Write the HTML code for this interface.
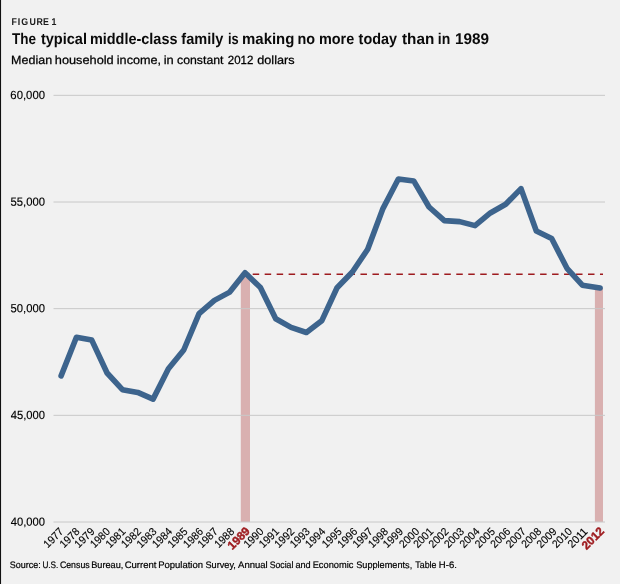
<!DOCTYPE html>
<html lang="en"><head><meta charset="utf-8"><title>Figure 1: The typical middle-class family is making no more today than in 1989</title>
<style>
html,body{margin:0;padding:0;background:#f1f1f1;}
body{width:620px;height:584px;overflow:hidden;font-family:"Liberation Sans",sans-serif;}
svg{display:block;will-change:transform;text-rendering:geometricPrecision;font-family:"Liberation Sans",sans-serif;}
</style></head>
<body>
<svg width="620" height="584" viewBox="0 0 620 584">
<rect x="0" y="0" width="620" height="584" fill="#f1f1f1"/>
<rect x="0" y="0" width="1.05" height="584" fill="#111"/>
<text transform="rotate(0.03) scale(0.9,1)" x="12.75 19.73 23.71 32.76 40.53 47.72 53.72 57.37" y="24.8" font-size="9.8" font-weight="bold" fill="#1a1a1a">FIGURE 1</text>
<text transform="translate(11.90,43.9) rotate(0.03)" font-size="15.5" font-weight="bold" textLength="24.04" lengthAdjust="spacingAndGlyphs" fill="#0a0a0a">The</text>
<text transform="translate(40.90,43.9) rotate(0.03)" font-size="15.5" font-weight="bold" textLength="46.06" lengthAdjust="spacingAndGlyphs" fill="#0a0a0a">typical</text>
<text transform="translate(89.90,43.9) rotate(0.03)" font-size="15.5" font-weight="bold" textLength="87.59" lengthAdjust="spacingAndGlyphs" fill="#0a0a0a">middle-class</text>
<text transform="translate(181.37,43.9) rotate(0.03)" font-size="15.5" font-weight="bold" textLength="42.03" lengthAdjust="spacingAndGlyphs" fill="#0a0a0a">family</text>
<text transform="translate(227.90,43.9) rotate(0.03)" font-size="15.5" font-weight="bold" textLength="10.72" lengthAdjust="spacingAndGlyphs" fill="#0a0a0a">is</text>
<text transform="translate(242.07,43.9) rotate(0.03)" font-size="15.5" font-weight="bold" textLength="52.29" lengthAdjust="spacingAndGlyphs" fill="#0a0a0a">making</text>
<text transform="translate(297.50,43.9) rotate(0.03)" font-size="15.5" font-weight="bold" textLength="17.57" lengthAdjust="spacingAndGlyphs" fill="#0a0a0a">no</text>
<text transform="translate(318.90,43.9) rotate(0.03)" font-size="15.5" font-weight="bold" textLength="35.26" lengthAdjust="spacingAndGlyphs" fill="#0a0a0a">more</text>
<text transform="translate(358.60,43.9) rotate(0.03)" font-size="15.5" font-weight="bold" textLength="38.41" lengthAdjust="spacingAndGlyphs" fill="#0a0a0a">today</text>
<text transform="translate(402.00,43.9) rotate(0.03)" font-size="15.5" font-weight="bold" textLength="32.24" lengthAdjust="spacingAndGlyphs" fill="#0a0a0a">than</text>
<text transform="translate(437.82,43.9) rotate(0.03)" font-size="15.5" font-weight="bold" textLength="12.45" lengthAdjust="spacingAndGlyphs" fill="#0a0a0a">in</text>
<text transform="translate(454.94,43.9) rotate(0.03)" font-size="15.5" font-weight="bold" textLength="34.04" lengthAdjust="spacingAndGlyphs" fill="#0a0a0a">1989</text>

<text transform="translate(11.12,63.9) rotate(0.03)" font-size="11.9" textLength="40.98" lengthAdjust="spacingAndGlyphs" fill="#000" stroke="#000" stroke-width="0.25">Median</text>
<text transform="translate(54.80,63.9) rotate(0.03)" font-size="11.9" textLength="58.91" lengthAdjust="spacingAndGlyphs" fill="#000" stroke="#000" stroke-width="0.25">household</text>
<text transform="translate(116.81,63.9) rotate(0.03)" font-size="11.9" textLength="44.23" lengthAdjust="spacingAndGlyphs" fill="#000" stroke="#000" stroke-width="0.25">income,</text>
<text transform="translate(163.69,63.9) rotate(0.03)" font-size="11.9" textLength="10.03" lengthAdjust="spacingAndGlyphs" fill="#000" stroke="#000" stroke-width="0.25">in</text>
<text transform="translate(177.02,63.9) rotate(0.03)" font-size="11.9" textLength="46.44" lengthAdjust="spacingAndGlyphs" fill="#000" stroke="#000" stroke-width="0.25">constant</text>
<text transform="translate(227.76,63.9) rotate(0.03)" font-size="11.9" textLength="25.50" lengthAdjust="spacingAndGlyphs" fill="#000" stroke="#000" stroke-width="0.25">2012</text>
<text transform="translate(257.20,63.9) rotate(0.03)" font-size="11.9" textLength="37.39" lengthAdjust="spacingAndGlyphs" fill="#000" stroke="#000" stroke-width="0.25">dollars</text>

<rect x="240.8" y="272.80" width="9.2" height="249.20" fill="#d9b0b0"/>
<rect x="594.9" y="287.97" width="8.1" height="234.03" fill="#d9b0b0"/>

<line x1="53.5" x2="605" y1="95.33" y2="95.33" stroke="#c8c8c8" stroke-width="1"/>
<line x1="53.5" x2="605" y1="202.00" y2="202.00" stroke="#c8c8c8" stroke-width="1"/>
<line x1="53.5" x2="605" y1="308.66" y2="308.66" stroke="#c8c8c8" stroke-width="1"/>
<line x1="53.5" x2="605" y1="415.33" y2="415.33" stroke="#c8c8c8" stroke-width="1"/>
<line x1="53.5" x2="605" y1="522.00" y2="522.00" stroke="#c8c8c8" stroke-width="1"/>

<line x1="252.7" x2="603" y1="274.2" y2="274.2" stroke="#9e1b1f" stroke-width="1.6" stroke-dasharray="6.5 5.475"/>
<polyline points="61.10,375.87 76.43,337.27 91.76,340.09 107.09,372.99 122.42,389.63 137.75,392.44 153.08,399.12 168.41,368.80 183.74,349.99 199.07,313.70 214.40,300.37 229.73,292.11 245.06,272.80 260.39,287.46 275.72,318.71 291.05,327.40 306.38,332.47 321.71,320.85 337.04,287.80 352.37,271.97 367.70,249.27 383.03,208.35 398.36,178.96 413.69,180.94 429.02,206.99 444.35,220.62 459.68,221.65 475.01,225.66 490.34,212.96 505.67,204.30 521.00,188.62 536.33,230.93 551.66,238.58 566.99,268.30 582.32,285.20 600.10,287.97" fill="none" stroke="#3d648d" stroke-width="5.6" stroke-linecap="round" stroke-linejoin="round"/>
<text transform="translate(10.37,98.98) rotate(0.03)" font-size="11.8" textLength="34.61" lengthAdjust="spacingAndGlyphs" fill="#000" stroke="#000" stroke-width="0.15">60,000</text>
<text transform="translate(10.55,205.65) rotate(0.03)" font-size="11.8" textLength="34.43" lengthAdjust="spacingAndGlyphs" fill="#000" stroke="#000" stroke-width="0.15">55,000</text>
<text transform="translate(10.55,312.31) rotate(0.03)" font-size="11.8" textLength="34.43" lengthAdjust="spacingAndGlyphs" fill="#000" stroke="#000" stroke-width="0.15">50,000</text>
<text transform="translate(10.73,418.98) rotate(0.03)" font-size="11.8" textLength="34.25" lengthAdjust="spacingAndGlyphs" fill="#000" stroke="#000" stroke-width="0.15">45,000</text>
<text transform="translate(10.73,525.65) rotate(0.03)" font-size="11.8" textLength="34.25" lengthAdjust="spacingAndGlyphs" fill="#000" stroke="#000" stroke-width="0.15">40,000</text>

<text transform="translate(64.20,532.2) rotate(-45)" text-anchor="end" font-size="11" textLength="23.2" lengthAdjust="spacingAndGlyphs" fill="#000" stroke="#000" stroke-width="0.12">1977</text>
<text transform="translate(80.33,532.2) rotate(-45)" text-anchor="end" font-size="11" textLength="23.2" lengthAdjust="spacingAndGlyphs" fill="#000" stroke="#000" stroke-width="0.12">1978</text>
<text transform="translate(95.26,532.2) rotate(-45)" text-anchor="end" font-size="11" textLength="23.2" lengthAdjust="spacingAndGlyphs" fill="#000" stroke="#000" stroke-width="0.12">1979</text>
<text transform="translate(110.79,532.2) rotate(-45)" text-anchor="end" font-size="11" textLength="23.2" lengthAdjust="spacingAndGlyphs" fill="#000" stroke="#000" stroke-width="0.12">1980</text>
<text transform="translate(126.32,532.2) rotate(-45)" text-anchor="end" font-size="11" textLength="23.2" lengthAdjust="spacingAndGlyphs" fill="#000" stroke="#000" stroke-width="0.12">1981</text>
<text transform="translate(141.85,532.2) rotate(-45)" text-anchor="end" font-size="11" textLength="23.2" lengthAdjust="spacingAndGlyphs" fill="#000" stroke="#000" stroke-width="0.12">1982</text>
<text transform="translate(157.38,532.2) rotate(-45)" text-anchor="end" font-size="11" textLength="23.2" lengthAdjust="spacingAndGlyphs" fill="#000" stroke="#000" stroke-width="0.12">1983</text>
<text transform="translate(172.91,532.2) rotate(-45)" text-anchor="end" font-size="11" textLength="23.2" lengthAdjust="spacingAndGlyphs" fill="#000" stroke="#000" stroke-width="0.12">1984</text>
<text transform="translate(188.44,532.2) rotate(-45)" text-anchor="end" font-size="11" textLength="23.2" lengthAdjust="spacingAndGlyphs" fill="#000" stroke="#000" stroke-width="0.12">1985</text>
<text transform="translate(203.97,532.2) rotate(-45)" text-anchor="end" font-size="11" textLength="23.2" lengthAdjust="spacingAndGlyphs" fill="#000" stroke="#000" stroke-width="0.12">1986</text>
<text transform="translate(218.50,532.2) rotate(-45)" text-anchor="end" font-size="11" textLength="23.2" lengthAdjust="spacingAndGlyphs" fill="#000" stroke="#000" stroke-width="0.12">1987</text>
<text transform="translate(235.03,532.2) rotate(-45)" text-anchor="end" font-size="11" textLength="23.2" lengthAdjust="spacingAndGlyphs" fill="#000" stroke="#000" stroke-width="0.12">1988</text>
<text transform="translate(250.56,532.0) rotate(-45)" text-anchor="end" font-size="11.8" textLength="25.8" lengthAdjust="spacingAndGlyphs" font-weight="bold" fill="#9e1b1f" stroke="#9e1b1f" stroke-width="0.45">1989</text>
<text transform="translate(264.30,532.2) rotate(-45)" text-anchor="end" font-size="11" textLength="23.2" lengthAdjust="spacingAndGlyphs" fill="#000" stroke="#000" stroke-width="0.12">1990</text>
<text transform="translate(279.73,532.2) rotate(-45)" text-anchor="end" font-size="11" textLength="23.2" lengthAdjust="spacingAndGlyphs" fill="#000" stroke="#000" stroke-width="0.12">1991</text>
<text transform="translate(295.16,532.2) rotate(-45)" text-anchor="end" font-size="11" textLength="23.2" lengthAdjust="spacingAndGlyphs" fill="#000" stroke="#000" stroke-width="0.12">1992</text>
<text transform="translate(310.59,532.2) rotate(-45)" text-anchor="end" font-size="11" textLength="23.2" lengthAdjust="spacingAndGlyphs" fill="#000" stroke="#000" stroke-width="0.12">1993</text>
<text transform="translate(326.02,532.2) rotate(-45)" text-anchor="end" font-size="11" textLength="23.2" lengthAdjust="spacingAndGlyphs" fill="#000" stroke="#000" stroke-width="0.12">1994</text>
<text transform="translate(342.65,532.2) rotate(-45)" text-anchor="end" font-size="11" textLength="23.2" lengthAdjust="spacingAndGlyphs" fill="#000" stroke="#000" stroke-width="0.12">1995</text>
<text transform="translate(358.18,532.2) rotate(-45)" text-anchor="end" font-size="11" textLength="23.2" lengthAdjust="spacingAndGlyphs" fill="#000" stroke="#000" stroke-width="0.12">1996</text>
<text transform="translate(373.31,532.2) rotate(-45)" text-anchor="end" font-size="11" textLength="23.2" lengthAdjust="spacingAndGlyphs" fill="#000" stroke="#000" stroke-width="0.12">1997</text>
<text transform="translate(388.94,532.2) rotate(-45)" text-anchor="end" font-size="11" textLength="23.2" lengthAdjust="spacingAndGlyphs" fill="#000" stroke="#000" stroke-width="0.12">1998</text>
<text transform="translate(403.77,532.2) rotate(-45)" text-anchor="end" font-size="11" textLength="23.2" lengthAdjust="spacingAndGlyphs" fill="#000" stroke="#000" stroke-width="0.12">1999</text>
<text transform="translate(420.00,532.2) rotate(-45)" text-anchor="end" font-size="11" textLength="23.2" lengthAdjust="spacingAndGlyphs" fill="#000" stroke="#000" stroke-width="0.12">2000</text>
<text transform="translate(434.03,532.2) rotate(-45)" text-anchor="end" font-size="11" textLength="23.2" lengthAdjust="spacingAndGlyphs" fill="#000" stroke="#000" stroke-width="0.12">2001</text>
<text transform="translate(449.46,532.2) rotate(-45)" text-anchor="end" font-size="11" textLength="23.2" lengthAdjust="spacingAndGlyphs" fill="#000" stroke="#000" stroke-width="0.12">2002</text>
<text transform="translate(464.89,532.2) rotate(-45)" text-anchor="end" font-size="11" textLength="23.2" lengthAdjust="spacingAndGlyphs" fill="#000" stroke="#000" stroke-width="0.12">2003</text>
<text transform="translate(480.32,532.2) rotate(-45)" text-anchor="end" font-size="11" textLength="23.2" lengthAdjust="spacingAndGlyphs" fill="#000" stroke="#000" stroke-width="0.12">2004</text>
<text transform="translate(495.75,532.2) rotate(-45)" text-anchor="end" font-size="11" textLength="23.2" lengthAdjust="spacingAndGlyphs" fill="#000" stroke="#000" stroke-width="0.12">2005</text>
<text transform="translate(511.18,532.2) rotate(-45)" text-anchor="end" font-size="11" textLength="23.2" lengthAdjust="spacingAndGlyphs" fill="#000" stroke="#000" stroke-width="0.12">2006</text>
<text transform="translate(526.61,532.2) rotate(-45)" text-anchor="end" font-size="11" textLength="23.2" lengthAdjust="spacingAndGlyphs" fill="#000" stroke="#000" stroke-width="0.12">2007</text>
<text transform="translate(542.04,532.2) rotate(-45)" text-anchor="end" font-size="11" textLength="23.2" lengthAdjust="spacingAndGlyphs" fill="#000" stroke="#000" stroke-width="0.12">2008</text>
<text transform="translate(557.47,532.2) rotate(-45)" text-anchor="end" font-size="11" textLength="23.2" lengthAdjust="spacingAndGlyphs" fill="#000" stroke="#000" stroke-width="0.12">2009</text>
<text transform="translate(572.90,532.2) rotate(-45)" text-anchor="end" font-size="11" textLength="23.2" lengthAdjust="spacingAndGlyphs" fill="#000" stroke="#000" stroke-width="0.12">2010</text>
<text transform="translate(588.33,532.2) rotate(-45)" text-anchor="end" font-size="11" textLength="23.2" lengthAdjust="spacingAndGlyphs" fill="#000" stroke="#000" stroke-width="0.12">2011</text>
<text transform="translate(604.76,532.0) rotate(-45)" text-anchor="end" font-size="11.8" textLength="25.8" lengthAdjust="spacingAndGlyphs" font-weight="bold" fill="#9e1b1f" stroke="#9e1b1f" stroke-width="0.45">2012</text>

<text transform="translate(9.82,568.1) rotate(0.03)" font-size="9.4" textLength="30.99" lengthAdjust="spacingAndGlyphs" fill="#000" stroke="#000" stroke-width="0.2">Source:</text>
<text transform="translate(42.39,568.1) rotate(0.03)" font-size="9.4" textLength="15.95" lengthAdjust="spacingAndGlyphs" fill="#000" stroke="#000" stroke-width="0.2">U.S.</text>
<text transform="translate(59.89,568.1) rotate(0.03)" font-size="9.4" textLength="29.79" lengthAdjust="spacingAndGlyphs" fill="#000" stroke="#000" stroke-width="0.2">Census</text>
<text transform="translate(91.18,568.1) rotate(0.03)" font-size="9.4" textLength="32.10" lengthAdjust="spacingAndGlyphs" fill="#000" stroke="#000" stroke-width="0.2">Bureau,</text>
<text transform="translate(124.65,568.1) rotate(0.03)" font-size="9.4" textLength="31.71" lengthAdjust="spacingAndGlyphs" fill="#000" stroke="#000" stroke-width="0.2">Current</text>
<text transform="translate(158.16,568.1) rotate(0.03)" font-size="9.4" textLength="44.87" lengthAdjust="spacingAndGlyphs" fill="#000" stroke="#000" stroke-width="0.2">Population</text>
<text transform="translate(205.51,568.1) rotate(0.03)" font-size="9.4" textLength="30.37" lengthAdjust="spacingAndGlyphs" fill="#000" stroke="#000" stroke-width="0.2">Survey,</text>
<text transform="translate(238.10,568.1) rotate(0.03)" font-size="9.4" textLength="29.63" lengthAdjust="spacingAndGlyphs" fill="#000" stroke="#000" stroke-width="0.2">Annual</text>
<text transform="translate(269.73,568.1) rotate(0.03)" font-size="9.4" textLength="23.64" lengthAdjust="spacingAndGlyphs" fill="#000" stroke="#000" stroke-width="0.2">Social</text>
<text transform="translate(295.41,568.1) rotate(0.03)" font-size="9.4" textLength="15.30" lengthAdjust="spacingAndGlyphs" fill="#000" stroke="#000" stroke-width="0.2">and</text>
<text transform="translate(312.68,568.1) rotate(0.03)" font-size="9.4" textLength="40.67" lengthAdjust="spacingAndGlyphs" fill="#000" stroke="#000" stroke-width="0.2">Economic</text>
<text transform="translate(356.21,568.1) rotate(0.03)" font-size="9.4" textLength="55.97" lengthAdjust="spacingAndGlyphs" fill="#000" stroke="#000" stroke-width="0.2">Supplements,</text>
<text transform="translate(415.36,568.1) rotate(0.03)" font-size="9.4" textLength="21.10" lengthAdjust="spacingAndGlyphs" fill="#000" stroke="#000" stroke-width="0.2">Table</text>
<text transform="translate(438.86,568.1) rotate(0.03)" font-size="9.4" textLength="18.01" lengthAdjust="spacingAndGlyphs" fill="#000" stroke="#000" stroke-width="0.2">H-6.</text>

</svg>
</body></html>
